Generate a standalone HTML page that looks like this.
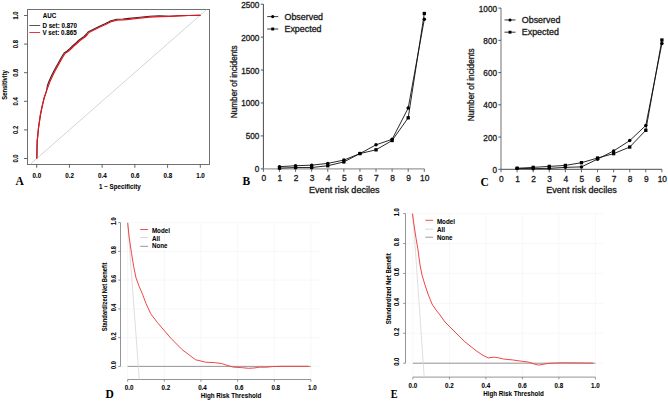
<!DOCTYPE html><html><head><meta charset="utf-8"><style>html,body{margin:0;padding:0;background:#fff;}svg{display:block;}</style></head><body>
<svg width="668" height="401" viewBox="0 0 668 401">
<rect width="668" height="401" fill="#fff"/>
<g>
<rect x="27.5" y="9.5" width="182" height="155" fill="none" stroke="#707070" stroke-width="1"/>
<line x1="30.50" y1="164.00" x2="206.70" y2="9.50" stroke="#c8c8c8" stroke-width="0.8"/>
<line x1="24.00" y1="158.50" x2="27.50" y2="158.50" stroke="#555" stroke-width="0.9"/>
<text font-family='"Liberation Sans", sans-serif' font-size="5.9" font-weight="bold" text-anchor="middle" fill="#000" stroke="#000" stroke-width="0.06" transform="translate(18.30 158.50) rotate(-90) scale(1.0 1.08)">0.0</text>
<line x1="24.00" y1="129.90" x2="27.50" y2="129.90" stroke="#555" stroke-width="0.9"/>
<text font-family='"Liberation Sans", sans-serif' font-size="5.9" font-weight="bold" text-anchor="middle" fill="#000" stroke="#000" stroke-width="0.06" transform="translate(18.30 129.90) rotate(-90) scale(1.0 1.08)">0.2</text>
<line x1="24.00" y1="101.30" x2="27.50" y2="101.30" stroke="#555" stroke-width="0.9"/>
<text font-family='"Liberation Sans", sans-serif' font-size="5.9" font-weight="bold" text-anchor="middle" fill="#000" stroke="#000" stroke-width="0.06" transform="translate(18.30 101.30) rotate(-90) scale(1.0 1.08)">0.4</text>
<line x1="24.00" y1="72.70" x2="27.50" y2="72.70" stroke="#555" stroke-width="0.9"/>
<text font-family='"Liberation Sans", sans-serif' font-size="5.9" font-weight="bold" text-anchor="middle" fill="#000" stroke="#000" stroke-width="0.06" transform="translate(18.30 72.70) rotate(-90) scale(1.0 1.08)">0.6</text>
<line x1="24.00" y1="44.10" x2="27.50" y2="44.10" stroke="#555" stroke-width="0.9"/>
<text font-family='"Liberation Sans", sans-serif' font-size="5.9" font-weight="bold" text-anchor="middle" fill="#000" stroke="#000" stroke-width="0.06" transform="translate(18.30 44.10) rotate(-90) scale(1.0 1.08)">0.8</text>
<line x1="24.00" y1="15.50" x2="27.50" y2="15.50" stroke="#555" stroke-width="0.9"/>
<text font-family='"Liberation Sans", sans-serif' font-size="5.9" font-weight="bold" text-anchor="middle" fill="#000" stroke="#000" stroke-width="0.06" transform="translate(18.30 15.50) rotate(-90) scale(1.0 1.08)">1.0</text>
<line x1="36.70" y1="164.50" x2="36.70" y2="167.80" stroke="#555" stroke-width="0.9"/>
<text font-family='"Liberation Sans", sans-serif' font-size="6.5" font-weight="bold" text-anchor="middle" fill="#000" stroke="#000" stroke-width="0.06" transform="translate(36.90 177.70) scale(0.96 1.0)">0.0</text>
<line x1="69.42" y1="164.50" x2="69.42" y2="167.80" stroke="#555" stroke-width="0.9"/>
<text font-family='"Liberation Sans", sans-serif' font-size="6.5" font-weight="bold" text-anchor="middle" fill="#000" stroke="#000" stroke-width="0.06" transform="translate(69.62 177.70) scale(0.96 1.0)">0.2</text>
<line x1="102.14" y1="164.50" x2="102.14" y2="167.80" stroke="#555" stroke-width="0.9"/>
<text font-family='"Liberation Sans", sans-serif' font-size="6.5" font-weight="bold" text-anchor="middle" fill="#000" stroke="#000" stroke-width="0.06" transform="translate(102.34 177.70) scale(0.96 1.0)">0.4</text>
<line x1="134.86" y1="164.50" x2="134.86" y2="167.80" stroke="#555" stroke-width="0.9"/>
<text font-family='"Liberation Sans", sans-serif' font-size="6.5" font-weight="bold" text-anchor="middle" fill="#000" stroke="#000" stroke-width="0.06" transform="translate(135.06 177.70) scale(0.96 1.0)">0.6</text>
<line x1="167.58" y1="164.50" x2="167.58" y2="167.80" stroke="#555" stroke-width="0.9"/>
<text font-family='"Liberation Sans", sans-serif' font-size="6.5" font-weight="bold" text-anchor="middle" fill="#000" stroke="#000" stroke-width="0.06" transform="translate(167.78 177.70) scale(0.96 1.0)">0.8</text>
<line x1="200.30" y1="164.50" x2="200.30" y2="167.80" stroke="#555" stroke-width="0.9"/>
<text font-family='"Liberation Sans", sans-serif' font-size="6.5" font-weight="bold" text-anchor="middle" fill="#000" stroke="#000" stroke-width="0.06" transform="translate(200.50 177.70) scale(0.96 1.0)">1.0</text>
<text font-family='"Liberation Sans", sans-serif' font-size="6.5" font-weight="bold" text-anchor="middle" fill="#000" stroke="#000" stroke-width="0.06" transform="translate(119.90 188.70) scale(0.96 1.0)">1 &#8722; Specificity</text>
<text font-family='"Liberation Sans", sans-serif' font-size="5.9" font-weight="bold" text-anchor="middle" fill="#000" stroke="#000" stroke-width="0.06" transform="translate(7.20 85.00) rotate(-90) scale(1.0 1.08)">Sensitivity</text>
<text font-family='"Liberation Sans", sans-serif' font-size="6.5" font-weight="bold" text-anchor="start" fill="#000" stroke="#000" stroke-width="0.06" transform="translate(42.80 18.00) scale(0.96 1.0)">AUC</text>
<line x1="29.30" y1="25.50" x2="40.10" y2="25.50" stroke="#444" stroke-width="0.9"/>
<line x1="29.30" y1="32.50" x2="40.10" y2="32.50" stroke="#e02020" stroke-width="0.9"/>
<text font-family='"Liberation Sans", sans-serif' font-size="6.5" font-weight="bold" text-anchor="start" fill="#000" stroke="#000" stroke-width="0.06" transform="translate(42.40 27.50) scale(0.96 1.0)">D set: 0.870</text>
<text font-family='"Liberation Sans", sans-serif' font-size="6.5" font-weight="bold" text-anchor="start" fill="#000" stroke="#000" stroke-width="0.06" transform="translate(42.40 34.70) scale(0.96 1.0)">V set: 0.865</text>
<polyline points="36.80,158.60 37.20,141.10 38.50,128.00 40.40,114.90 42.30,105.60 44.10,98.10 46.60,90.60 47.40,85.50 49.10,80.90 51.60,75.40 54.10,70.40 56.60,65.90 59.10,61.40 61.60,57.00 64.10,53.00 67.10,51.00 70.00,48.50 73.00,45.50 76.00,43.00 79.10,40.00 84.10,36.50 86.50,34.00 88.00,32.00 93.00,29.50 99.00,26.50 105.00,23.80 111.00,20.80 117.00,19.30 123.00,19.00 129.00,18.40 135.00,17.80 140.00,17.30 149.70,16.30 159.50,15.70 169.20,16.30 178.90,15.80 188.60,15.50 199.80,15.30 200.50,15.50" fill="none" stroke="#2a2a2a" stroke-width="1.1" stroke-linejoin="round"/>
<polyline points="36.80,158.60 37.20,141.10 38.50,128.00 40.40,114.90 42.30,105.60 44.10,98.10 46.60,90.60 48.30,86.00 50.00,81.40 52.50,75.90 55.00,70.90 57.50,66.40 60.00,61.90 62.50,57.50 65.00,53.50 68.00,51.50 70.90,49.00 73.90,46.00 76.90,43.50 80.00,40.50 85.00,37.00 87.40,34.50 88.90,32.50 93.90,30.00 99.90,27.00 105.00,24.70 111.00,21.70 117.00,20.20 123.00,19.90 129.00,19.30 135.00,18.70 140.00,18.20 149.70,17.20 159.50,16.60 169.20,16.30 178.90,15.80 188.60,15.50 199.80,15.30 200.50,15.50" fill="none" stroke="#e8141c" stroke-width="1.2" stroke-linejoin="round"/>
<text font-family='"Liberation Serif", serif' font-size="11.5" font-weight="bold" text-anchor="start" fill="#000" transform="translate(15.40 184.60)">A</text>
</g>
<g>
<line x1="263.40" y1="4.20" x2="263.40" y2="168.85" stroke="#4a4a4a" stroke-width="1.0"/>
<line x1="263.40" y1="168.85" x2="424.30" y2="168.85" stroke="#9a9a9a" stroke-width="1.4"/>
<line x1="260.80" y1="168.85" x2="263.40" y2="168.85" stroke="#444" stroke-width="0.9"/>
<text font-family='"Liberation Sans", sans-serif' font-size="8.2" font-weight="normal" text-anchor="end" fill="#1a1a1a" stroke="#1a1a1a" stroke-width="0.3" transform="translate(259.40 172.35)">0</text>
<line x1="260.80" y1="135.92" x2="263.40" y2="135.92" stroke="#444" stroke-width="0.9"/>
<text font-family='"Liberation Sans", sans-serif' font-size="8.2" font-weight="normal" text-anchor="end" fill="#1a1a1a" stroke="#1a1a1a" stroke-width="0.3" transform="translate(259.40 139.42)">500</text>
<line x1="260.80" y1="102.99" x2="263.40" y2="102.99" stroke="#444" stroke-width="0.9"/>
<text font-family='"Liberation Sans", sans-serif' font-size="8.2" font-weight="normal" text-anchor="end" fill="#1a1a1a" stroke="#1a1a1a" stroke-width="0.3" transform="translate(259.40 106.49)">1000</text>
<line x1="260.80" y1="70.06" x2="263.40" y2="70.06" stroke="#444" stroke-width="0.9"/>
<text font-family='"Liberation Sans", sans-serif' font-size="8.2" font-weight="normal" text-anchor="end" fill="#1a1a1a" stroke="#1a1a1a" stroke-width="0.3" transform="translate(259.40 73.56)">1500</text>
<line x1="260.80" y1="37.13" x2="263.40" y2="37.13" stroke="#444" stroke-width="0.9"/>
<text font-family='"Liberation Sans", sans-serif' font-size="8.2" font-weight="normal" text-anchor="end" fill="#1a1a1a" stroke="#1a1a1a" stroke-width="0.3" transform="translate(259.40 40.63)">2000</text>
<line x1="260.80" y1="4.20" x2="263.40" y2="4.20" stroke="#444" stroke-width="0.9"/>
<text font-family='"Liberation Sans", sans-serif' font-size="8.2" font-weight="normal" text-anchor="end" fill="#1a1a1a" stroke="#1a1a1a" stroke-width="0.3" transform="translate(259.40 7.70)">2500</text>
<line x1="263.40" y1="168.85" x2="263.40" y2="171.85" stroke="#555" stroke-width="0.9"/>
<text font-family='"Liberation Sans", sans-serif' font-size="8.4" font-weight="normal" text-anchor="middle" fill="#1a1a1a" stroke="#1a1a1a" stroke-width="0.3" transform="translate(263.80 181.25)">0</text>
<line x1="279.49" y1="168.85" x2="279.49" y2="171.85" stroke="#555" stroke-width="0.9"/>
<text font-family='"Liberation Sans", sans-serif' font-size="8.4" font-weight="normal" text-anchor="middle" fill="#1a1a1a" stroke="#1a1a1a" stroke-width="0.3" transform="translate(279.89 181.25)">1</text>
<line x1="295.58" y1="168.85" x2="295.58" y2="171.85" stroke="#555" stroke-width="0.9"/>
<text font-family='"Liberation Sans", sans-serif' font-size="8.4" font-weight="normal" text-anchor="middle" fill="#1a1a1a" stroke="#1a1a1a" stroke-width="0.3" transform="translate(295.98 181.25)">2</text>
<line x1="311.67" y1="168.85" x2="311.67" y2="171.85" stroke="#555" stroke-width="0.9"/>
<text font-family='"Liberation Sans", sans-serif' font-size="8.4" font-weight="normal" text-anchor="middle" fill="#1a1a1a" stroke="#1a1a1a" stroke-width="0.3" transform="translate(312.07 181.25)">3</text>
<line x1="327.76" y1="168.85" x2="327.76" y2="171.85" stroke="#555" stroke-width="0.9"/>
<text font-family='"Liberation Sans", sans-serif' font-size="8.4" font-weight="normal" text-anchor="middle" fill="#1a1a1a" stroke="#1a1a1a" stroke-width="0.3" transform="translate(328.16 181.25)">4</text>
<line x1="343.85" y1="168.85" x2="343.85" y2="171.85" stroke="#555" stroke-width="0.9"/>
<text font-family='"Liberation Sans", sans-serif' font-size="8.4" font-weight="normal" text-anchor="middle" fill="#1a1a1a" stroke="#1a1a1a" stroke-width="0.3" transform="translate(344.25 181.25)">5</text>
<line x1="359.94" y1="168.85" x2="359.94" y2="171.85" stroke="#555" stroke-width="0.9"/>
<text font-family='"Liberation Sans", sans-serif' font-size="8.4" font-weight="normal" text-anchor="middle" fill="#1a1a1a" stroke="#1a1a1a" stroke-width="0.3" transform="translate(360.34 181.25)">6</text>
<line x1="376.03" y1="168.85" x2="376.03" y2="171.85" stroke="#555" stroke-width="0.9"/>
<text font-family='"Liberation Sans", sans-serif' font-size="8.4" font-weight="normal" text-anchor="middle" fill="#1a1a1a" stroke="#1a1a1a" stroke-width="0.3" transform="translate(376.43 181.25)">7</text>
<line x1="392.12" y1="168.85" x2="392.12" y2="171.85" stroke="#555" stroke-width="0.9"/>
<text font-family='"Liberation Sans", sans-serif' font-size="8.4" font-weight="normal" text-anchor="middle" fill="#1a1a1a" stroke="#1a1a1a" stroke-width="0.3" transform="translate(392.52 181.25)">8</text>
<line x1="408.21" y1="168.85" x2="408.21" y2="171.85" stroke="#555" stroke-width="0.9"/>
<text font-family='"Liberation Sans", sans-serif' font-size="8.4" font-weight="normal" text-anchor="middle" fill="#1a1a1a" stroke="#1a1a1a" stroke-width="0.3" transform="translate(408.61 181.25)">9</text>
<line x1="424.30" y1="168.85" x2="424.30" y2="171.85" stroke="#555" stroke-width="0.9"/>
<text font-family='"Liberation Sans", sans-serif' font-size="8.4" font-weight="normal" text-anchor="middle" fill="#1a1a1a" stroke="#1a1a1a" stroke-width="0.3" transform="translate(424.70 181.25)">10</text>
<text font-family='"Liberation Sans", sans-serif' font-size="8.4" font-weight="normal" text-anchor="middle" fill="#1a1a1a" stroke="#1a1a1a" stroke-width="0.3" transform="translate(344.30 192.85) scale(1.08 1.0)">Event risk deciles</text>
<text font-family='"Liberation Sans", sans-serif' font-size="8.2" font-weight="normal" text-anchor="middle" fill="#1a1a1a" stroke="#1a1a1a" stroke-width="0.3" transform="translate(237.30 81.80) rotate(-90) scale(1.0 1.06)">Number of incidents</text>
<polyline points="279.49,166.68 295.58,165.75 311.67,165.16 327.76,163.38 343.85,160.09 359.94,153.57 376.03,144.81 392.12,139.34 408.21,108.06 424.30,19.35" fill="none" stroke="#111" stroke-width="0.9"/>
<polyline points="279.49,168.13 295.58,167.53 311.67,167.53 327.76,165.75 343.85,161.93 359.94,153.57 376.03,149.82 392.12,140.53 408.21,117.81 424.30,13.49" fill="none" stroke="#111" stroke-width="0.9"/>
<circle cx="279.49" cy="166.68" r="1.75" fill="#000"/>
<circle cx="295.58" cy="165.75" r="1.75" fill="#000"/>
<circle cx="311.67" cy="165.16" r="1.75" fill="#000"/>
<circle cx="327.76" cy="163.38" r="1.75" fill="#000"/>
<circle cx="343.85" cy="160.09" r="1.75" fill="#000"/>
<circle cx="359.94" cy="153.57" r="1.75" fill="#000"/>
<circle cx="376.03" cy="144.81" r="1.75" fill="#000"/>
<circle cx="392.12" cy="139.34" r="1.75" fill="#000"/>
<circle cx="408.21" cy="108.06" r="1.75" fill="#000"/>
<circle cx="424.30" cy="19.35" r="1.75" fill="#000"/>
<rect x="277.84" y="166.48" width="3.3" height="3.3" fill="#000"/>
<rect x="293.93" y="165.88" width="3.3" height="3.3" fill="#000"/>
<rect x="310.02" y="165.88" width="3.3" height="3.3" fill="#000"/>
<rect x="326.11" y="164.10" width="3.3" height="3.3" fill="#000"/>
<rect x="342.20" y="160.28" width="3.3" height="3.3" fill="#000"/>
<rect x="358.29" y="151.92" width="3.3" height="3.3" fill="#000"/>
<rect x="374.38" y="148.17" width="3.3" height="3.3" fill="#000"/>
<rect x="390.47" y="138.88" width="3.3" height="3.3" fill="#000"/>
<rect x="406.56" y="116.16" width="3.3" height="3.3" fill="#000"/>
<rect x="422.65" y="11.84" width="3.3" height="3.3" fill="#000"/>
<line x1="267.20" y1="16.60" x2="278.20" y2="16.60" stroke="#222" stroke-width="0.9"/>
<circle cx="272.70" cy="16.6" r="1.55" fill="#000"/>
<line x1="267.20" y1="29.00" x2="278.20" y2="29.00" stroke="#222" stroke-width="0.9"/>
<rect x="271.25" y="27.55" width="2.9" height="2.9" fill="#000"/>
<text font-family='"Liberation Sans", sans-serif' font-size="8.4" font-weight="normal" text-anchor="start" fill="#1a1a1a" stroke="#1a1a1a" stroke-width="0.3" transform="translate(284.50 19.50) scale(1.06 1.0)">Observed</text>
<text font-family='"Liberation Sans", sans-serif' font-size="8.4" font-weight="normal" text-anchor="start" fill="#1a1a1a" stroke="#1a1a1a" stroke-width="0.3" transform="translate(284.50 31.90) scale(1.06 1.0)">Expected</text>
<text font-family='"Liberation Serif", serif' font-size="11.5" font-weight="bold" text-anchor="start" fill="#000" transform="translate(242.60 185.15)">B</text>
</g>
<g>
<line x1="501.00" y1="8.10" x2="501.00" y2="169.30" stroke="#9a9a9a" stroke-width="1.4"/>
<line x1="501.00" y1="169.30" x2="661.90" y2="169.30" stroke="#4a4a4a" stroke-width="1.0"/>
<line x1="498.40" y1="169.30" x2="501.00" y2="169.30" stroke="#444" stroke-width="0.9"/>
<text font-family='"Liberation Sans", sans-serif' font-size="8.2" font-weight="normal" text-anchor="end" fill="#1a1a1a" stroke="#1a1a1a" stroke-width="0.3" transform="translate(497.00 172.80)">0</text>
<line x1="498.40" y1="137.06" x2="501.00" y2="137.06" stroke="#444" stroke-width="0.9"/>
<text font-family='"Liberation Sans", sans-serif' font-size="8.2" font-weight="normal" text-anchor="end" fill="#1a1a1a" stroke="#1a1a1a" stroke-width="0.3" transform="translate(497.00 140.56)">200</text>
<line x1="498.40" y1="104.82" x2="501.00" y2="104.82" stroke="#444" stroke-width="0.9"/>
<text font-family='"Liberation Sans", sans-serif' font-size="8.2" font-weight="normal" text-anchor="end" fill="#1a1a1a" stroke="#1a1a1a" stroke-width="0.3" transform="translate(497.00 108.32)">400</text>
<line x1="498.40" y1="72.58" x2="501.00" y2="72.58" stroke="#444" stroke-width="0.9"/>
<text font-family='"Liberation Sans", sans-serif' font-size="8.2" font-weight="normal" text-anchor="end" fill="#1a1a1a" stroke="#1a1a1a" stroke-width="0.3" transform="translate(497.00 76.08)">600</text>
<line x1="498.40" y1="40.34" x2="501.00" y2="40.34" stroke="#444" stroke-width="0.9"/>
<text font-family='"Liberation Sans", sans-serif' font-size="8.2" font-weight="normal" text-anchor="end" fill="#1a1a1a" stroke="#1a1a1a" stroke-width="0.3" transform="translate(497.00 43.84)">800</text>
<line x1="498.40" y1="8.10" x2="501.00" y2="8.10" stroke="#444" stroke-width="0.9"/>
<text font-family='"Liberation Sans", sans-serif' font-size="8.2" font-weight="normal" text-anchor="end" fill="#1a1a1a" stroke="#1a1a1a" stroke-width="0.3" transform="translate(497.00 11.60)">1000</text>
<line x1="501.00" y1="169.30" x2="501.00" y2="172.30" stroke="#555" stroke-width="0.9"/>
<text font-family='"Liberation Sans", sans-serif' font-size="8.4" font-weight="normal" text-anchor="middle" fill="#1a1a1a" stroke="#1a1a1a" stroke-width="0.3" transform="translate(501.40 181.70)">0</text>
<line x1="517.09" y1="169.30" x2="517.09" y2="172.30" stroke="#555" stroke-width="0.9"/>
<text font-family='"Liberation Sans", sans-serif' font-size="8.4" font-weight="normal" text-anchor="middle" fill="#1a1a1a" stroke="#1a1a1a" stroke-width="0.3" transform="translate(517.49 181.70)">1</text>
<line x1="533.18" y1="169.30" x2="533.18" y2="172.30" stroke="#555" stroke-width="0.9"/>
<text font-family='"Liberation Sans", sans-serif' font-size="8.4" font-weight="normal" text-anchor="middle" fill="#1a1a1a" stroke="#1a1a1a" stroke-width="0.3" transform="translate(533.58 181.70)">2</text>
<line x1="549.27" y1="169.30" x2="549.27" y2="172.30" stroke="#555" stroke-width="0.9"/>
<text font-family='"Liberation Sans", sans-serif' font-size="8.4" font-weight="normal" text-anchor="middle" fill="#1a1a1a" stroke="#1a1a1a" stroke-width="0.3" transform="translate(549.67 181.70)">3</text>
<line x1="565.36" y1="169.30" x2="565.36" y2="172.30" stroke="#555" stroke-width="0.9"/>
<text font-family='"Liberation Sans", sans-serif' font-size="8.4" font-weight="normal" text-anchor="middle" fill="#1a1a1a" stroke="#1a1a1a" stroke-width="0.3" transform="translate(565.76 181.70)">4</text>
<line x1="581.45" y1="169.30" x2="581.45" y2="172.30" stroke="#555" stroke-width="0.9"/>
<text font-family='"Liberation Sans", sans-serif' font-size="8.4" font-weight="normal" text-anchor="middle" fill="#1a1a1a" stroke="#1a1a1a" stroke-width="0.3" transform="translate(581.85 181.70)">5</text>
<line x1="597.54" y1="169.30" x2="597.54" y2="172.30" stroke="#555" stroke-width="0.9"/>
<text font-family='"Liberation Sans", sans-serif' font-size="8.4" font-weight="normal" text-anchor="middle" fill="#1a1a1a" stroke="#1a1a1a" stroke-width="0.3" transform="translate(597.94 181.70)">6</text>
<line x1="613.63" y1="169.30" x2="613.63" y2="172.30" stroke="#555" stroke-width="0.9"/>
<text font-family='"Liberation Sans", sans-serif' font-size="8.4" font-weight="normal" text-anchor="middle" fill="#1a1a1a" stroke="#1a1a1a" stroke-width="0.3" transform="translate(614.03 181.70)">7</text>
<line x1="629.72" y1="169.30" x2="629.72" y2="172.30" stroke="#555" stroke-width="0.9"/>
<text font-family='"Liberation Sans", sans-serif' font-size="8.4" font-weight="normal" text-anchor="middle" fill="#1a1a1a" stroke="#1a1a1a" stroke-width="0.3" transform="translate(630.12 181.70)">8</text>
<line x1="645.81" y1="169.30" x2="645.81" y2="172.30" stroke="#555" stroke-width="0.9"/>
<text font-family='"Liberation Sans", sans-serif' font-size="8.4" font-weight="normal" text-anchor="middle" fill="#1a1a1a" stroke="#1a1a1a" stroke-width="0.3" transform="translate(646.21 181.70)">9</text>
<line x1="661.90" y1="169.30" x2="661.90" y2="172.30" stroke="#555" stroke-width="0.9"/>
<text font-family='"Liberation Sans", sans-serif' font-size="8.4" font-weight="normal" text-anchor="middle" fill="#1a1a1a" stroke="#1a1a1a" stroke-width="0.3" transform="translate(662.30 181.70)">10</text>
<text font-family='"Liberation Sans", sans-serif' font-size="8.4" font-weight="normal" text-anchor="middle" fill="#1a1a1a" stroke="#1a1a1a" stroke-width="0.3" transform="translate(581.50 193.30) scale(1.08 1.0)">Event risk deciles</text>
<text font-family='"Liberation Sans", sans-serif' font-size="8.2" font-weight="normal" text-anchor="middle" fill="#1a1a1a" stroke="#1a1a1a" stroke-width="0.3" transform="translate(474.30 84.80) rotate(-90) scale(1.0 1.06)">Number of incidents</text>
<polyline points="517.09,168.33 533.18,168.66 549.27,168.33 565.36,167.37 581.45,166.88 597.54,159.14 613.63,150.92 629.72,140.61 645.81,125.45 661.90,43.56" fill="none" stroke="#111" stroke-width="0.9"/>
<polyline points="517.09,168.33 533.18,167.37 549.27,166.40 565.36,165.43 581.45,162.69 597.54,158.02 613.63,153.66 629.72,147.05 645.81,130.29 661.90,40.02" fill="none" stroke="#111" stroke-width="0.9"/>
<circle cx="517.09" cy="168.33" r="1.75" fill="#000"/>
<circle cx="533.18" cy="168.66" r="1.75" fill="#000"/>
<circle cx="549.27" cy="168.33" r="1.75" fill="#000"/>
<circle cx="565.36" cy="167.37" r="1.75" fill="#000"/>
<circle cx="581.45" cy="166.88" r="1.75" fill="#000"/>
<circle cx="597.54" cy="159.14" r="1.75" fill="#000"/>
<circle cx="613.63" cy="150.92" r="1.75" fill="#000"/>
<circle cx="629.72" cy="140.61" r="1.75" fill="#000"/>
<circle cx="645.81" cy="125.45" r="1.75" fill="#000"/>
<circle cx="661.90" cy="43.56" r="1.75" fill="#000"/>
<rect x="515.44" y="166.68" width="3.3" height="3.3" fill="#000"/>
<rect x="531.53" y="165.72" width="3.3" height="3.3" fill="#000"/>
<rect x="547.62" y="164.75" width="3.3" height="3.3" fill="#000"/>
<rect x="563.71" y="163.78" width="3.3" height="3.3" fill="#000"/>
<rect x="579.80" y="161.04" width="3.3" height="3.3" fill="#000"/>
<rect x="595.89" y="156.37" width="3.3" height="3.3" fill="#000"/>
<rect x="611.98" y="152.01" width="3.3" height="3.3" fill="#000"/>
<rect x="628.07" y="145.40" width="3.3" height="3.3" fill="#000"/>
<rect x="644.16" y="128.64" width="3.3" height="3.3" fill="#000"/>
<rect x="660.25" y="38.37" width="3.3" height="3.3" fill="#000"/>
<line x1="504.50" y1="19.95" x2="515.50" y2="19.95" stroke="#222" stroke-width="0.9"/>
<circle cx="510.00" cy="19.95" r="1.55" fill="#000"/>
<line x1="504.50" y1="32.20" x2="515.50" y2="32.20" stroke="#222" stroke-width="0.9"/>
<rect x="508.55" y="30.750000000000004" width="2.9" height="2.9" fill="#000"/>
<text font-family='"Liberation Sans", sans-serif' font-size="8.4" font-weight="normal" text-anchor="start" fill="#1a1a1a" stroke="#1a1a1a" stroke-width="0.3" transform="translate(521.80 22.85) scale(1.06 1.0)">Observed</text>
<text font-family='"Liberation Sans", sans-serif' font-size="8.4" font-weight="normal" text-anchor="start" fill="#1a1a1a" stroke="#1a1a1a" stroke-width="0.3" transform="translate(521.80 35.10) scale(1.06 1.0)">Expected</text>
<text font-family='"Liberation Serif", serif' font-size="11.5" font-weight="bold" text-anchor="start" fill="#000" transform="translate(480.40 185.60)">C</text>
</g>
<g>
<line x1="127.70" y1="223.10" x2="127.70" y2="379.50" stroke="#f6f6f6" stroke-width="0.9"/>
<line x1="164.34" y1="223.10" x2="164.34" y2="379.50" stroke="#f6f6f6" stroke-width="0.9"/>
<line x1="200.98" y1="223.10" x2="200.98" y2="379.50" stroke="#f6f6f6" stroke-width="0.9"/>
<line x1="237.62" y1="223.10" x2="237.62" y2="379.50" stroke="#f6f6f6" stroke-width="0.9"/>
<line x1="274.26" y1="223.10" x2="274.26" y2="379.50" stroke="#f6f6f6" stroke-width="0.9"/>
<line x1="310.90" y1="223.10" x2="310.90" y2="379.50" stroke="#f6f6f6" stroke-width="0.9"/>
<line x1="121.70" y1="366.40" x2="318.90" y2="366.40" stroke="#f6f6f6" stroke-width="0.9"/>
<line x1="121.70" y1="337.64" x2="318.90" y2="337.64" stroke="#f6f6f6" stroke-width="0.9"/>
<line x1="121.70" y1="308.88" x2="318.90" y2="308.88" stroke="#f6f6f6" stroke-width="0.9"/>
<line x1="121.70" y1="280.12" x2="318.90" y2="280.12" stroke="#f6f6f6" stroke-width="0.9"/>
<line x1="121.70" y1="251.36" x2="318.90" y2="251.36" stroke="#f6f6f6" stroke-width="0.9"/>
<line x1="121.70" y1="222.60" x2="318.90" y2="222.60" stroke="#f6f6f6" stroke-width="0.9"/>
<line x1="120.50" y1="366.40" x2="120.50" y2="222.60" stroke="#7a7a7a" stroke-width="0.8"/>
<line x1="118.20" y1="366.40" x2="120.50" y2="366.40" stroke="#7a7a7a" stroke-width="0.8"/>
<text font-family='"Liberation Sans", sans-serif' font-size="5.6" font-weight="bold" text-anchor="middle" fill="#000" stroke="#000" stroke-width="0.06" transform="translate(116.00 365.00) rotate(-90) scale(1.0 1.14)">0.0</text>
<line x1="118.20" y1="337.64" x2="120.50" y2="337.64" stroke="#7a7a7a" stroke-width="0.8"/>
<text font-family='"Liberation Sans", sans-serif' font-size="5.6" font-weight="bold" text-anchor="middle" fill="#000" stroke="#000" stroke-width="0.06" transform="translate(116.00 336.24) rotate(-90) scale(1.0 1.14)">0.2</text>
<line x1="118.20" y1="308.88" x2="120.50" y2="308.88" stroke="#7a7a7a" stroke-width="0.8"/>
<text font-family='"Liberation Sans", sans-serif' font-size="5.6" font-weight="bold" text-anchor="middle" fill="#000" stroke="#000" stroke-width="0.06" transform="translate(116.00 307.48) rotate(-90) scale(1.0 1.14)">0.4</text>
<line x1="118.20" y1="280.12" x2="120.50" y2="280.12" stroke="#7a7a7a" stroke-width="0.8"/>
<text font-family='"Liberation Sans", sans-serif' font-size="5.6" font-weight="bold" text-anchor="middle" fill="#000" stroke="#000" stroke-width="0.06" transform="translate(116.00 278.72) rotate(-90) scale(1.0 1.14)">0.6</text>
<line x1="118.20" y1="251.36" x2="120.50" y2="251.36" stroke="#7a7a7a" stroke-width="0.8"/>
<text font-family='"Liberation Sans", sans-serif' font-size="5.6" font-weight="bold" text-anchor="middle" fill="#000" stroke="#000" stroke-width="0.06" transform="translate(116.00 249.96) rotate(-90) scale(1.0 1.14)">0.8</text>
<line x1="118.20" y1="222.60" x2="120.50" y2="222.60" stroke="#7a7a7a" stroke-width="0.8"/>
<text font-family='"Liberation Sans", sans-serif' font-size="5.6" font-weight="bold" text-anchor="middle" fill="#000" stroke="#000" stroke-width="0.06" transform="translate(116.00 221.20) rotate(-90) scale(1.0 1.14)">1.0</text>
<line x1="127.70" y1="379.50" x2="310.90" y2="379.50" stroke="#7a7a7a" stroke-width="0.8"/>
<line x1="127.70" y1="379.50" x2="127.70" y2="381.80" stroke="#7a7a7a" stroke-width="0.8"/>
<text font-family='"Liberation Sans", sans-serif' font-size="6.5" font-weight="bold" text-anchor="middle" fill="#000" stroke="#000" stroke-width="0.06" transform="translate(129.20 389.80) scale(0.96 1.0)">0.0</text>
<line x1="164.34" y1="379.50" x2="164.34" y2="381.80" stroke="#7a7a7a" stroke-width="0.8"/>
<text font-family='"Liberation Sans", sans-serif' font-size="6.5" font-weight="bold" text-anchor="middle" fill="#000" stroke="#000" stroke-width="0.06" transform="translate(165.84 389.80) scale(0.96 1.0)">0.2</text>
<line x1="200.98" y1="379.50" x2="200.98" y2="381.80" stroke="#7a7a7a" stroke-width="0.8"/>
<text font-family='"Liberation Sans", sans-serif' font-size="6.5" font-weight="bold" text-anchor="middle" fill="#000" stroke="#000" stroke-width="0.06" transform="translate(202.48 389.80) scale(0.96 1.0)">0.4</text>
<line x1="237.62" y1="379.50" x2="237.62" y2="381.80" stroke="#7a7a7a" stroke-width="0.8"/>
<text font-family='"Liberation Sans", sans-serif' font-size="6.5" font-weight="bold" text-anchor="middle" fill="#000" stroke="#000" stroke-width="0.06" transform="translate(239.12 389.80) scale(0.96 1.0)">0.6</text>
<line x1="274.26" y1="379.50" x2="274.26" y2="381.80" stroke="#7a7a7a" stroke-width="0.8"/>
<text font-family='"Liberation Sans", sans-serif' font-size="6.5" font-weight="bold" text-anchor="middle" fill="#000" stroke="#000" stroke-width="0.06" transform="translate(275.76 389.80) scale(0.96 1.0)">0.8</text>
<line x1="310.90" y1="379.50" x2="310.90" y2="381.80" stroke="#7a7a7a" stroke-width="0.8"/>
<text font-family='"Liberation Sans", sans-serif' font-size="6.5" font-weight="bold" text-anchor="middle" fill="#000" stroke="#000" stroke-width="0.06" transform="translate(312.40 389.80) scale(0.96 1.0)">1.0</text>
<text font-family='"Liberation Sans", sans-serif' font-size="6.5" font-weight="bold" text-anchor="middle" fill="#000" stroke="#000" stroke-width="0.06" transform="translate(231.00 398.20) scale(0.96 1.0)">High Risk Threshold</text>
<text font-family='"Liberation Sans", sans-serif' font-size="5.8" font-weight="bold" text-anchor="middle" fill="#000" stroke="#000" stroke-width="0.06" transform="translate(106.60 296.90) rotate(-90) scale(1.0 1.15)">Standardized Net Benefit</text>
<line x1="127.70" y1="366.40" x2="310.90" y2="366.40" stroke="#8a8a8a" stroke-width="0.9"/>
<line x1="127.70" y1="222.60" x2="139.30" y2="379.50" stroke="#d6d6d6" stroke-width="0.8"/>
<polyline points="127.70,222.90 129.20,237.40 131.50,253.20 133.70,266.60 136.00,277.90 139.30,286.80 142.70,294.70 146.10,303.70 150.70,313.70 157.50,322.70 171.00,338.40 182.20,349.70 195.70,359.80 200.00,360.80 205.40,362.20 214.40,362.60 221.60,363.50 227.00,365.30 233.20,367.10 241.30,367.60 248.50,368.30 253.90,368.00 259.30,367.20 266.50,367.20 273.60,366.50 280.80,366.30 308.70,366.30" fill="none" stroke="#f03c3c" stroke-width="0.95" stroke-linejoin="round"/>
<line x1="140.30" y1="229.50" x2="148.10" y2="229.50" stroke="#ee3a3a" stroke-width="0.9"/>
<line x1="140.30" y1="237.50" x2="148.10" y2="237.50" stroke="#d0d0d0" stroke-width="0.9"/>
<line x1="140.30" y1="246.30" x2="148.10" y2="246.30" stroke="#8c8c8c" stroke-width="0.9"/>
<text font-family='"Liberation Sans", sans-serif' font-size="6.5" font-weight="bold" text-anchor="start" fill="#000" stroke="#000" stroke-width="0.06" transform="translate(151.90 232.80) scale(0.96 1.0)">Model</text>
<text font-family='"Liberation Sans", sans-serif' font-size="6.5" font-weight="bold" text-anchor="start" fill="#000" stroke="#000" stroke-width="0.06" transform="translate(151.90 240.70) scale(0.96 1.0)">All</text>
<text font-family='"Liberation Sans", sans-serif' font-size="6.5" font-weight="bold" text-anchor="start" fill="#000" stroke="#000" stroke-width="0.06" transform="translate(151.90 247.90) scale(0.96 1.0)">None</text>
<text font-family='"Liberation Serif", serif' font-size="11.5" font-weight="bold" text-anchor="start" fill="#000" transform="translate(105.50 397.70)">D</text>
</g>
<g>
<line x1="412.90" y1="214.10" x2="412.90" y2="377.10" stroke="#f6f6f6" stroke-width="0.9"/>
<line x1="449.40" y1="214.10" x2="449.40" y2="377.10" stroke="#f6f6f6" stroke-width="0.9"/>
<line x1="485.90" y1="214.10" x2="485.90" y2="377.10" stroke="#f6f6f6" stroke-width="0.9"/>
<line x1="522.40" y1="214.10" x2="522.40" y2="377.10" stroke="#f6f6f6" stroke-width="0.9"/>
<line x1="558.90" y1="214.10" x2="558.90" y2="377.10" stroke="#f6f6f6" stroke-width="0.9"/>
<line x1="595.40" y1="214.10" x2="595.40" y2="377.10" stroke="#f6f6f6" stroke-width="0.9"/>
<line x1="406.90" y1="363.20" x2="603.40" y2="363.20" stroke="#f6f6f6" stroke-width="0.9"/>
<line x1="406.90" y1="333.28" x2="603.40" y2="333.28" stroke="#f6f6f6" stroke-width="0.9"/>
<line x1="406.90" y1="303.36" x2="603.40" y2="303.36" stroke="#f6f6f6" stroke-width="0.9"/>
<line x1="406.90" y1="273.44" x2="603.40" y2="273.44" stroke="#f6f6f6" stroke-width="0.9"/>
<line x1="406.90" y1="243.52" x2="603.40" y2="243.52" stroke="#f6f6f6" stroke-width="0.9"/>
<line x1="406.90" y1="213.60" x2="603.40" y2="213.60" stroke="#f6f6f6" stroke-width="0.9"/>
<line x1="405.50" y1="363.20" x2="405.50" y2="213.60" stroke="#7a7a7a" stroke-width="0.8"/>
<line x1="403.20" y1="363.20" x2="405.50" y2="363.20" stroke="#7a7a7a" stroke-width="0.8"/>
<text font-family='"Liberation Sans", sans-serif' font-size="5.8" font-weight="bold" text-anchor="middle" fill="#000" stroke="#000" stroke-width="0.06" transform="translate(399.00 361.80) rotate(-90) scale(1.0 1.14)">0.0</text>
<line x1="403.20" y1="333.28" x2="405.50" y2="333.28" stroke="#7a7a7a" stroke-width="0.8"/>
<text font-family='"Liberation Sans", sans-serif' font-size="5.8" font-weight="bold" text-anchor="middle" fill="#000" stroke="#000" stroke-width="0.06" transform="translate(399.00 331.88) rotate(-90) scale(1.0 1.14)">0.2</text>
<line x1="403.20" y1="303.36" x2="405.50" y2="303.36" stroke="#7a7a7a" stroke-width="0.8"/>
<text font-family='"Liberation Sans", sans-serif' font-size="5.8" font-weight="bold" text-anchor="middle" fill="#000" stroke="#000" stroke-width="0.06" transform="translate(399.00 301.96) rotate(-90) scale(1.0 1.14)">0.4</text>
<line x1="403.20" y1="273.44" x2="405.50" y2="273.44" stroke="#7a7a7a" stroke-width="0.8"/>
<text font-family='"Liberation Sans", sans-serif' font-size="5.8" font-weight="bold" text-anchor="middle" fill="#000" stroke="#000" stroke-width="0.06" transform="translate(399.00 272.04) rotate(-90) scale(1.0 1.14)">0.6</text>
<line x1="403.20" y1="243.52" x2="405.50" y2="243.52" stroke="#7a7a7a" stroke-width="0.8"/>
<text font-family='"Liberation Sans", sans-serif' font-size="5.8" font-weight="bold" text-anchor="middle" fill="#000" stroke="#000" stroke-width="0.06" transform="translate(399.00 242.12) rotate(-90) scale(1.0 1.14)">0.8</text>
<line x1="403.20" y1="213.60" x2="405.50" y2="213.60" stroke="#7a7a7a" stroke-width="0.8"/>
<text font-family='"Liberation Sans", sans-serif' font-size="5.8" font-weight="bold" text-anchor="middle" fill="#000" stroke="#000" stroke-width="0.06" transform="translate(399.00 212.20) rotate(-90) scale(1.0 1.14)">1.0</text>
<line x1="412.90" y1="377.10" x2="595.40" y2="377.10" stroke="#7a7a7a" stroke-width="0.8"/>
<line x1="412.90" y1="377.10" x2="412.90" y2="379.40" stroke="#7a7a7a" stroke-width="0.8"/>
<text font-family='"Liberation Sans", sans-serif' font-size="6.5" font-weight="bold" text-anchor="middle" fill="#000" stroke="#000" stroke-width="0.06" transform="translate(412.90 388.10) scale(0.96 1.0)">0.0</text>
<line x1="449.40" y1="377.10" x2="449.40" y2="379.40" stroke="#7a7a7a" stroke-width="0.8"/>
<text font-family='"Liberation Sans", sans-serif' font-size="6.5" font-weight="bold" text-anchor="middle" fill="#000" stroke="#000" stroke-width="0.06" transform="translate(449.40 388.10) scale(0.96 1.0)">0.2</text>
<line x1="485.90" y1="377.10" x2="485.90" y2="379.40" stroke="#7a7a7a" stroke-width="0.8"/>
<text font-family='"Liberation Sans", sans-serif' font-size="6.5" font-weight="bold" text-anchor="middle" fill="#000" stroke="#000" stroke-width="0.06" transform="translate(485.90 388.10) scale(0.96 1.0)">0.4</text>
<line x1="522.40" y1="377.10" x2="522.40" y2="379.40" stroke="#7a7a7a" stroke-width="0.8"/>
<text font-family='"Liberation Sans", sans-serif' font-size="6.5" font-weight="bold" text-anchor="middle" fill="#000" stroke="#000" stroke-width="0.06" transform="translate(522.40 388.10) scale(0.96 1.0)">0.6</text>
<line x1="558.90" y1="377.10" x2="558.90" y2="379.40" stroke="#7a7a7a" stroke-width="0.8"/>
<text font-family='"Liberation Sans", sans-serif' font-size="6.5" font-weight="bold" text-anchor="middle" fill="#000" stroke="#000" stroke-width="0.06" transform="translate(558.90 388.10) scale(0.96 1.0)">0.8</text>
<line x1="595.40" y1="377.10" x2="595.40" y2="379.40" stroke="#7a7a7a" stroke-width="0.8"/>
<text font-family='"Liberation Sans", sans-serif' font-size="6.5" font-weight="bold" text-anchor="middle" fill="#000" stroke="#000" stroke-width="0.06" transform="translate(595.40 388.10) scale(0.96 1.0)">1.0</text>
<text font-family='"Liberation Sans", sans-serif' font-size="6.5" font-weight="bold" text-anchor="middle" fill="#000" stroke="#000" stroke-width="0.06" transform="translate(513.50 396.30) scale(0.96 1.0)">High Risk Threshold</text>
<text font-family='"Liberation Sans", sans-serif' font-size="6.0" font-weight="bold" text-anchor="middle" fill="#000" stroke="#000" stroke-width="0.06" transform="translate(390.90 288.75) rotate(-90) scale(1.0 1.15)">Standardized Net Benefit</text>
<line x1="412.90" y1="363.20" x2="595.40" y2="363.20" stroke="#8a8a8a" stroke-width="0.9"/>
<line x1="412.90" y1="213.60" x2="424.20" y2="377.10" stroke="#d6d6d6" stroke-width="0.8"/>
<polyline points="412.40,213.70 414.20,226.20 416.10,238.60 418.00,249.80 420.00,265.00 422.00,275.00 425.00,285.00 428.00,294.00 432.00,304.00 436.00,310.00 440.00,315.00 445.00,322.00 449.00,326.00 454.00,331.00 464.90,341.80 476.20,350.80 482.90,355.30 488.10,357.90 494.40,357.20 498.90,357.90 503.40,359.00 512.30,359.90 521.30,361.20 528.50,362.10 533.90,363.90 538.40,365.10 542.90,364.40 548.30,363.30 555.40,363.00 562.60,362.80 593.20,363.10" fill="none" stroke="#f03c3c" stroke-width="0.95" stroke-linejoin="round"/>
<line x1="425.30" y1="220.30" x2="433.10" y2="220.30" stroke="#ee3a3a" stroke-width="0.9"/>
<line x1="425.30" y1="229.20" x2="433.10" y2="229.20" stroke="#d0d0d0" stroke-width="0.9"/>
<line x1="425.30" y1="237.20" x2="433.10" y2="237.20" stroke="#8c8c8c" stroke-width="0.9"/>
<text font-family='"Liberation Sans", sans-serif' font-size="6.5" font-weight="bold" text-anchor="start" fill="#000" stroke="#000" stroke-width="0.06" transform="translate(436.90 223.60) scale(0.96 1.0)">Model</text>
<text font-family='"Liberation Sans", sans-serif' font-size="6.5" font-weight="bold" text-anchor="start" fill="#000" stroke="#000" stroke-width="0.06" transform="translate(436.90 231.90) scale(0.96 1.0)">All</text>
<text font-family='"Liberation Sans", sans-serif' font-size="6.5" font-weight="bold" text-anchor="start" fill="#000" stroke="#000" stroke-width="0.06" transform="translate(436.90 239.80) scale(0.96 1.0)">None</text>
<text font-family='"Liberation Serif", serif' font-size="11.5" font-weight="bold" text-anchor="start" fill="#000" transform="translate(390.80 397.70) scale(0.9 1.0)">E</text>
</g>
</svg></body></html>
